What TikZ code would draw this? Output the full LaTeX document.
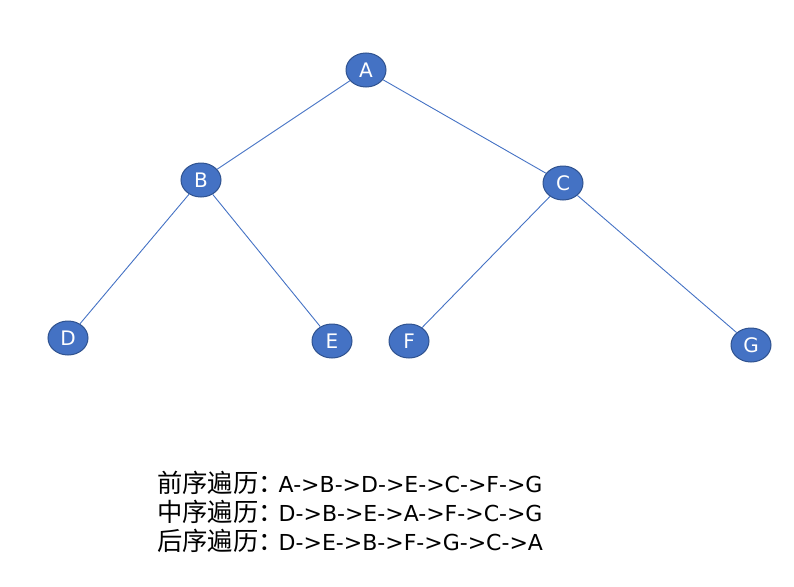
\documentclass[tikz,border=0pt]{standalone}
\usepackage{fontspec}
\setmainfont{DejaVu Sans}
\newfontfamily\cjk[Scale=1.15]{Noto Sans CJK SC}
\usetikzlibrary{shapes.geometric}
\definecolor{nodeblue}{HTML}{4472C4}
\definecolor{rimblue}{HTML}{2F528F}

\begin{document}
\begin{tikzpicture}[x=1pt,y=-1pt,
    vertex/.style={ellipse,fill=nodeblue,draw=rimblue,line width=1pt,
        minimum width=40pt,minimum height=34pt,inner sep=0pt,
        text=white,font=\fontsize{20}{20}\selectfont},
    order/.style={anchor=west,inner sep=0pt,font=\fontsize{22}{22}\selectfont}]
    \useasboundingbox (0,0) rectangle (794,586);
    \node[vertex] (A) at (366,70) {A};
    \node[vertex] (B) at (201,180) {B};
    \node[vertex] (C) at (563,183) {C};
    \node[vertex] (D) at (68,338) {D};
    \node[vertex] (E) at (332,341) {E};
    \node[vertex] (F) at (409,341) {F};
    \node[vertex] (G) at (751,345) {G};
    \path[draw=nodeblue,line width=0.9pt]
    (A) edge (B)
    (A) edge (C)
    (B) edge (D)
    (B) edge (E)
    (C) edge (F)
    (C) edge (G);

    \node[order] (pre) at (157,483) {{\cjk 前序遍历：}\hspace{-5pt}A->B->D->E->C->F->G};
    \node[order] (in) at (157,512) {{\cjk 中序遍历：}\hspace{-5pt}D->B->E->A->F->C->G};
    \node[order] (post) at (157,541) {{\cjk 后序遍历：}\hspace{-5pt}D->E->B->F->G->C->A};
\end{tikzpicture}
\end{document}
